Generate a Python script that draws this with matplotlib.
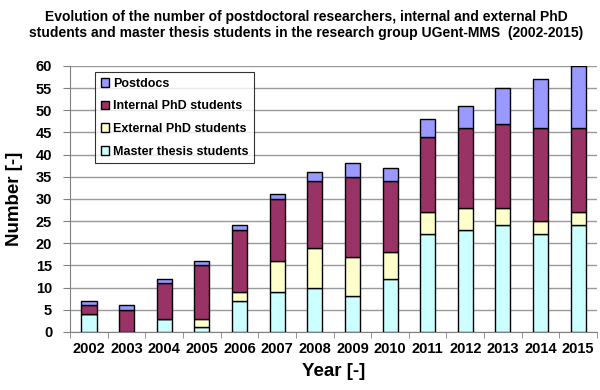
import matplotlib.pyplot as plt
import numpy as np

plt.rcParams["font.family"] = ["Liberation Sans", "DejaVu Sans"]
plt.rcParams["font.weight"] = "bold"

years = ["2002", "2003", "2004", "2005", "2006", "2007", "2008",
         "2009", "2010", "2011", "2012", "2013", "2014", "2015"]
master = [4, 0, 3, 1, 7, 9, 10, 8, 12, 22, 23, 24, 22, 24]
external = [0, 0, 0, 2, 2, 7, 9, 9, 6, 5, 5, 4, 3, 3]
internal = [2, 5, 8, 12, 14, 14, 15, 18, 16, 17, 18, 19, 21, 19]
postdocs = [1, 1, 1, 1, 1, 1, 2, 3, 3, 4, 5, 8, 11, 14]

series = [
    ("Master thesis students", master, "#ccffff"),
    ("External PhD students", external, "#ffffcc"),
    ("Internal PhD students", internal, "#993366"),
    ("Postdocs", postdocs, "#9999ff"),
]

fig = plt.figure(figsize=(6, 3.9), dpi=100)
ax = fig.add_axes([0.117, 0.149, 0.878, 0.682])

x = np.arange(len(years))
bottom = np.zeros(len(years))
handles = []
for label, vals, color in series:
    h = ax.bar(x, vals, 0.4, bottom=bottom, color=color,
               edgecolor="black", linewidth=1.0, label=label, zorder=3)
    handles.append(h)
    bottom += np.array(vals)

ax.set_ylim(0, 60)
ax.set_xlim(-0.5, len(years) - 0.5)
ax.set_yticks(range(0, 61, 5))
ax.set_xticks(x)
ax.set_xticklabels(years)
ax.set_xticks(np.arange(-0.5, len(years), 1), minor=True)
ax.tick_params(axis="x", which="major", length=0, labelsize=10.5, pad=7)
ax.tick_params(axis="x", which="minor", length=4, color="#808080")
ax.tick_params(axis="y", labelsize=10.5, length=5, color="#808080", pad=8)
ax.yaxis.grid(True, color="#999999", linewidth=1.0, zorder=0)
for s in ["top", "right"]:
    ax.spines[s].set_visible(False)
for s in ["left", "bottom"]:
    ax.spines[s].set_color("#808080")

ax.set_ylabel("Number [-]", fontsize=13.5, fontweight="bold", labelpad=9)
ax.set_xlabel("Year [-]", fontsize=13.5, fontweight="bold", labelpad=5)

fig.text(0.51, 0.975, "Evolution of the number of postdoctoral researchers, internal and external PhD\n"
         "students and master thesis students in the research group UGent-MMS  (2002-2015)",
         ha="center", va="top", fontsize=10, fontweight="bold", linespacing=1.25)

leg = ax.legend(handles[::-1], [s[0] for s in series][::-1], loc="upper left",
                bbox_to_anchor=(0.035, 1.0), fontsize=9, frameon=True,
                fancybox=False, edgecolor="black", handlelength=0.7,
                handleheight=0.7, handletextpad=0.3, labelspacing=0.85,
                borderpad=0.45)
leg.get_frame().set_linewidth(0.8)

fig.savefig("out.png", dpi=100)
